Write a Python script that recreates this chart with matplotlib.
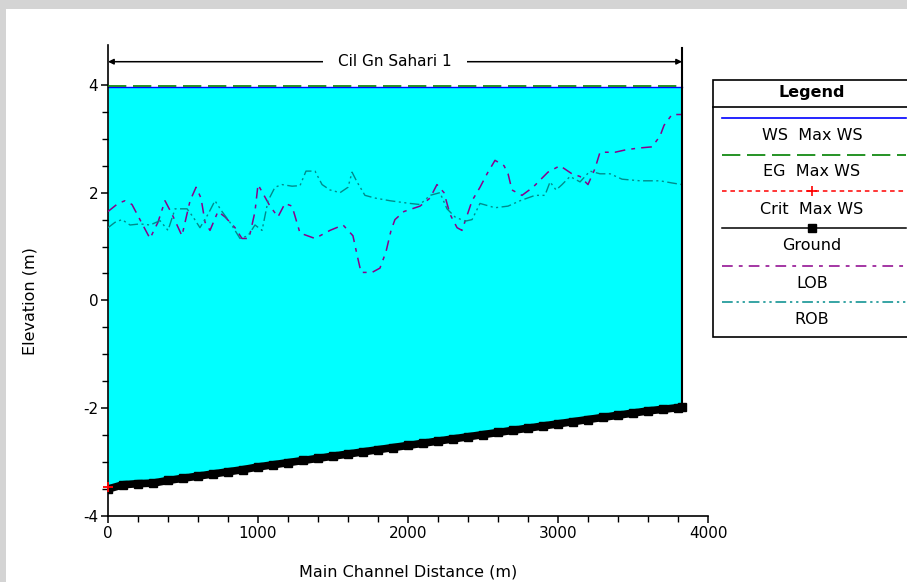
import numpy as np
import matplotlib.pyplot as plt
from matplotlib.patches import Rectangle
from matplotlib.ticker import MultipleLocator, FixedLocator

plt.rcParams['font.family'] = ['DejaVu Sans']
plt.rcParams['axes.unicode_minus'] = False

# ---- data ----
reach_name = "Cil Gn Sahari 1"

ground_sta = [0, 100, 200, 300, 400, 500, 600, 700, 800, 900, 1000, 1100, 1200,
              1300, 1400, 1500, 1600, 1700, 1800, 1900, 2000, 2100, 2200, 2300,
              2400, 2500, 2600, 2700, 2800, 2900, 3000, 3100, 3200, 3300, 3400,
              3500, 3600, 3700, 3800, 3827]
ground_elev = [-3.50, -3.42, -3.40, -3.39, -3.34, -3.30, -3.26, -3.22, -3.18,
               -3.14, -3.09, -3.05, -3.01, -2.97, -2.93, -2.89, -2.85, -2.81,
               -2.77, -2.73, -2.69, -2.65, -2.61, -2.57, -2.53, -2.49, -2.45,
               -2.41, -2.37, -2.33, -2.29, -2.25, -2.21, -2.17, -2.13, -2.09,
               -2.05, -2.02, -1.99, -1.98]

ws_sta = [0, 3827]
ws_elev = [3.96, 3.96]
eg_elev = [3.97, 3.97]

crit_sta = [0]
crit_elev = [-3.47]

lob_sta = [0, 67, 113, 160, 213, 280, 333, 380, 427, 493, 547, 587, 620, 647,
           680, 733, 780, 847, 893, 940, 980, 1000, 1040, 1080, 1133, 1180,
           1227, 1280, 1380, 1480, 1567, 1633, 1660, 1687, 1760, 1813, 1853,
           1887, 1913, 1973, 2080, 2147, 2193, 2240, 2280, 2327, 2360, 2427,
           2480, 2527, 2580, 2640, 2667, 2693, 2760, 2833, 2933, 3013, 3093,
           3147, 3200, 3247, 3280, 3380, 3460, 3547, 3627, 3680, 3707, 3760,
           3827]
lob_elev = [1.65, 1.80, 1.85, 1.78, 1.50, 1.15, 1.45, 1.85, 1.60, 1.20, 1.85,
            2.10, 1.90, 1.45, 1.30, 1.65, 1.55, 1.35, 1.15, 1.15, 1.65, 2.15,
            1.95, 1.75, 1.55, 1.80, 1.75, 1.25, 1.15, 1.30, 1.40, 1.20, 0.85,
            0.52, 0.52, 0.60, 0.90, 1.30, 1.50, 1.65, 1.75, 1.90, 2.15, 2.00,
            1.60, 1.35, 1.30, 1.85, 2.10, 2.35, 2.60, 2.50, 2.35, 2.05, 1.95,
            2.10, 2.38, 2.50, 2.35, 2.30, 2.15, 2.45, 2.75, 2.75, 2.80, 2.83,
            2.85, 3.05, 3.25, 3.45, 3.45]

rob_sta = [0, 47, 93, 147, 213, 280, 347, 400, 447, 527, 567, 613, 667, 713,
           760, 813, 880, 933, 980, 1027, 1067, 1113, 1160, 1227, 1280, 1320,
           1380, 1427, 1480, 1547, 1600, 1627, 1660, 1713, 1780, 1880, 2013,
           2080, 2147, 2213, 2260, 2313, 2380, 2427, 2480, 2580, 2667, 2747,
           2847, 2913, 2947, 2987, 3027, 3080, 3147, 3213, 3280, 3347, 3427,
           3547, 3680, 3760, 3827]
rob_elev = [1.35, 1.45, 1.50, 1.40, 1.42, 1.40, 1.48, 1.30, 1.70, 1.70, 1.55,
            1.35, 1.60, 1.85, 1.65, 1.45, 1.15, 1.20, 1.40, 1.30, 1.85, 2.10,
            2.15, 2.12, 2.13, 2.40, 2.40, 2.15, 2.05, 2.00, 2.10, 2.38, 2.20,
            1.95, 1.90, 1.85, 1.80, 1.78, 1.95, 2.00, 1.70, 1.55, 1.47, 1.50,
            1.80, 1.72, 1.75, 1.85, 1.95, 1.95, 2.20, 2.05, 2.15, 2.30, 2.20,
            2.40, 2.35, 2.35, 2.25, 2.22, 2.22, 2.18, 2.15]

legend_labels = ["WS  Max WS", "EG  Max WS", "Crit  Max WS", "Ground", "LOB", "ROB"]

C_WS = '#0000ff'
C_EG = '#008000'
C_CRIT = '#ff0000'
C_LOB = '#8b008b'
C_ROB = '#008b8b'
LOB_DASH = (7, 4, 2.5, 4)
ROB_DASH = (7, 2.5, 1.5, 2.5, 1.5, 2.5)

W, H = 907, 582
fig = plt.figure(figsize=(W / 100, H / 100), dpi=100, facecolor='#d4d4d4')
# white page inside the grey frame
fig.patches.append(Rectangle((6 / W, 0), 1, 1 - 9 / H, transform=fig.transFigure,
                             facecolor='white', edgecolor='none', zorder=-10))

ax = fig.add_axes([108 / W, 66 / H, 600 / W, 471 / H])
ax.set_facecolor('none')

ymax = 4.74
ax.set_xlim(0, 4000)
ax.set_ylim(-4, ymax)

# water between ground and water surface
ws_at_ground = np.interp(ground_sta, ws_sta, ws_elev)
ax.fill_between(ground_sta, ground_elev, ws_at_ground, color='#00ffff', lw=0, zorder=1)

ax.plot(ws_sta, eg_elev, color=C_EG, lw=1.2, dashes=(11, 4), zorder=3)
ax.plot(ws_sta, ws_elev, color=C_WS, lw=1.0, zorder=2)
ax.plot(lob_sta, lob_elev, color=C_LOB, lw=1.1, dashes=LOB_DASH, zorder=3)
ax.plot(rob_sta, rob_elev, color=C_ROB, lw=1.0, dashes=ROB_DASH, zorder=3)
ax.plot(ground_sta, ground_elev, color='black', lw=5.5, marker='s', ms=5.5,
        solid_capstyle='butt', zorder=4)
ax.plot(crit_sta, crit_elev, color=C_CRIT, lw=1, marker='+', ms=7, mew=1.3,
        ls='none', zorder=5, clip_on=False)

# reach boundary and reach annotation
x_end = ground_sta[-1]
ax.plot([x_end, x_end], [ground_elev[-1], ymax - 0.05], color='black', lw=1.5, zorder=5)
y_arrow = 4.43
ax.annotate('', xy=(0, y_arrow), xytext=(x_end, y_arrow),
            arrowprops=dict(arrowstyle='<|-|>', color='black', lw=1.1,
                            mutation_scale=8, shrinkA=0, shrinkB=0))
ax.text(x_end / 2, y_arrow, reach_name, ha='center', va='center', fontsize=11,
        bbox=dict(facecolor='white', edgecolor='none', pad=11))

for s in ['top', 'right']:
    ax.spines[s].set_visible(False)
ax.spines['left'].set_linewidth(1.2)
ax.spines['bottom'].set_linewidth(1.2)

ax.xaxis.set_major_locator(MultipleLocator(1000))
ax.xaxis.set_minor_locator(MultipleLocator(200))
ax.yaxis.set_major_locator(FixedLocator([-4, -2, 0, 2, 4]))
ax.yaxis.set_minor_locator(FixedLocator(np.arange(-4, 4.01, 0.5)))
ax.tick_params(which='major', length=5, width=1.1, labelsize=11, pad=2)
ax.tick_params(which='minor', length=4, width=1.0)

ax.set_xlabel('Main Channel Distance (m)', fontsize=11.5, labelpad=17)
fig.text(30 / W, 1 - 301 / H, 'Elevation (m)', rotation=90, ha='center',
         va='center', fontsize=11.5)

# ---- legend box in pixel coordinates ----
lax = fig.add_axes([712 / W, 1 - 338 / H, (W - 712) / W, 260 / H])
lax.set_xlim(712, W)
lax.set_ylim(338, 78)
lax.axis('off')
lax.add_patch(Rectangle((713, 80), 220, 257, facecolor='white', edgecolor='black',
                        lw=1.2, clip_on=True))
lax.plot([713, 933], [107, 107], color='black', lw=1.2)
lax.text(812, 93, 'Legend', ha='center', va='center', fontsize=11.5, fontweight='bold')

x0, x1, xm = 722, 906, 812
samples = [118, 155, 191, 228, 266, 302]
label_y = [136, 172, 209, 246, 283, 320]
lax.plot([x0, x1], [samples[0]] * 2, color=C_WS, lw=1.2)
lax.plot([x0, x1], [samples[1]] * 2, color=C_EG, lw=1.2, dashes=(11, 4))
lax.plot([x0, x1], [samples[2]] * 2, color=C_CRIT, lw=1.1, dashes=(3, 2.5))
lax.plot([xm], [samples[2]], color=C_CRIT, marker='+', ms=7, mew=1.2)
lax.plot([x0, x1], [samples[3]] * 2, color='black', lw=1.1)
lax.plot([xm], [samples[3]], color='black', marker='s', ms=5.5)
lax.plot([x0, x1], [samples[4]] * 2, color=C_LOB, lw=1.1, dashes=LOB_DASH)
lax.plot([x0, x1], [samples[5]] * 2, color=C_ROB, lw=1.1, dashes=ROB_DASH)
for lbl, yy in zip(legend_labels, label_y):
    lax.text(xm, yy, lbl, ha='center', va='center', fontsize=11.5)

fig.savefig('out.png', dpi=100, facecolor=fig.get_facecolor())
